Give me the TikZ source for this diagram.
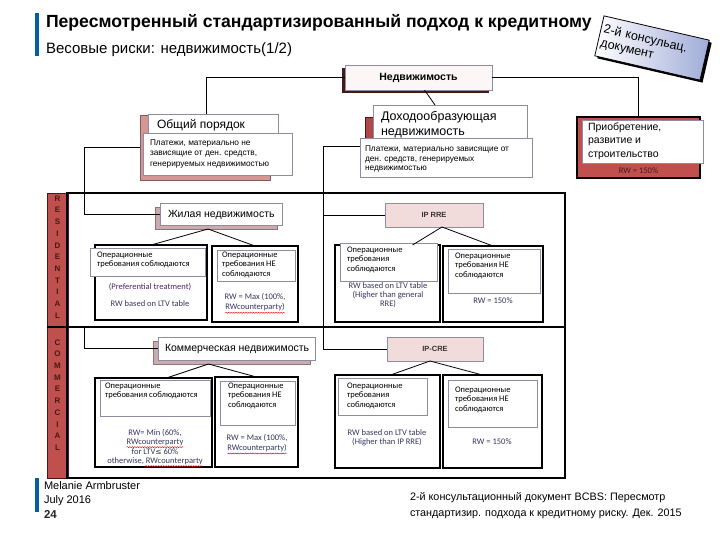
\documentclass[tikz,border=0pt]{standalone}
\usepackage{fontspec}
\setmainfont{Liberation Sans}
\newfontfamily\carl{Carlito}
\newfontfamily\dejav{DejaVu Sans}
\usetikzlibrary{calc,decorations.pathmorphing}
\definecolor{bluebar}{RGB}{0,94,162}
\definecolor{redbar}{RGB}{192,80,77}
\definecolor{darkred}{RGB}{70,25,25}
\definecolor{pinkb}{RGB}{214,150,148}
\definecolor{zhilback}{RGB}{200,172,176}
\definecolor{lightpink}{RGB}{242,220,219}
\definecolor{lblgray}{RGB}{140,140,165}
\definecolor{rwtext}{RGB}{55,55,95}
\definecolor{notebl}{RGB}{160,172,215}
\definecolor{nedvfill}{RGB}{252,246,246}
\newcommand\fs[2]{\fontsize{#1}{#2}\selectfont}
\newcommand\bx[6]{\node[#2,anchor=north west,minimum width={(#5)-(#3)},minimum height={(#6)-(#4)}] (#1) at (#3,#4) {};}
\tikzset{
  box/.style={inner sep=0pt,outer sep=0pt},
  blk/.style={box,draw=black,line width=1.5pt,fill=white},
  lbl/.style={box,draw=lblgray,line width=0.6pt,fill=white},
  pinkback/.style={box,draw=darkred!70,line width=0.6pt,fill=pinkb},
  conn/.style={draw=black,line width=0.8pt},
  txt/.style={inner sep=0pt,outer sep=0pt,anchor=north west,align=left},
  lbltxt/.style={txt,font=\carl\fs{8.5}{9.5}},
  rwtxt/.style={inner sep=0pt,outer sep=0pt,anchor=center,font=\carl\fs{8.5}{9.5},text=rwtext},
  vert/.style={inner sep=0pt,outer sep=0pt,align=center,font=\bfseries\fs{8}{11.7},text=darkred},
  squig/.style={draw=red,line width=0.45pt,decorate,decoration={snake,amplitude=0.5pt,segment length=2.5pt}},
}
\begin{document}
\begin{tikzpicture}[x=1pt,y=-1pt]
\useasboundingbox (0,0) rectangle (720,540);

% ---------- header ----------
\fill[bluebar] (35,13) rectangle (39,56);
\node[txt,anchor=base west,font=\bfseries\fs{17.6}{20}] (title) at (46,28) {Пересмотренный стандартизированный подход к кредитному};
\node[txt,anchor=base west,font=\fs{15}{17}] (subtitle) at (46,54) {Весовые риски: недвижимость(1/2)};

% ---------- big frame ----------
\bx{redbar}{box,fill=redbar,draw=darkred,line width=0.8pt}{47}{193}{68}{478}
\node[vert] (resid) at (57.5,257) {R\\E\\S\\I\\D\\E\\N\\T\\I\\A\\L};
\node[vert] (comm) at (57.5,395) {C\\O\\M\\M\\E\\R\\C\\I\\A\\L};
\draw[line width=1.8pt] (67,193) rectangle (565,478);
\draw[line width=1.8pt] (47,327) -- (565,327);

% ---------- top level boxes ----------
\bx{nedvS}{box,fill=darkred}{342}{68}{489}{93}
\node[box,draw=lblgray,line width=0.6pt,fill=nedvfill,anchor=north west,minimum width=147,minimum height=25,font=\bfseries\fs{10.5}{12}] (nedv) at (345,65) {Недвижимость};

\bx{obshB}{pinkback}{140}{115}{270}{180}
\bx{obshT}{lbl}{148}{114}{278}{133}
\bx{obshP}{lbl}{143}{133}{292}{175}
\node[txt,font=\fs{12}{14}] (obshTt) at (157,119.5) {Общий порядок};
\node[txt,font=\fs{8.3}{10.5}] (obshPt) at (150,139.5) {Платежи, материально не\\зависящие от ден. средств,\\генерируемых недвижимостью};

\bx{dohB}{box,fill=redbar!90!black,draw=darkred,line width=0.6pt}{365}{117}{500}{172}
\bx{dohT}{lbl}{373}{105}{527}{138}
\bx{dohP}{lbl}{360}{138}{532}{177}
\node[txt,font=\fs{12.5}{15}] (dohTt) at (381,111) {Доходообразующая\\недвижимость};
\node[txt,font=\fs{8.3}{9.3}] (dohPt) at (365,146) {Платежи, материально зависящие от\\ден. средств, генерируемых\\недвижимостью};

\bx{priob}{box,fill=redbar,draw=black,line width=1.2pt}{577}{117}{700}{178}
\bx{priobW}{lbl}{582}{120}{703}{163}
\node[txt,font=\fs{10.5}{13.5}] (priobt) at (588,122.5) {Приобретение,\\развитие и\\строительство};
\node[rwtxt,text=darkred] (priobrw) at (638.5,171) {RW = 150\%};

% ---------- connectors (top) ----------
\coordinate (jL) at (84,147.5);
\coordinate (jL2) at (84,327);
\coordinate (jR) at (323,146.5);
\draw[conn] (nedv.west) -| ([xshift=-7pt]obshT.north);
\draw[conn] (nedv.east) -| (priob.north);
\draw[conn] ([xshift=6pt]nedv.south) -- ([xshift=-15pt]dohT.north);
\draw[conn] (obshB.west) -- (jL);
\draw[conn] ([yshift=11pt]dohP.west) -- (jR);

% ---------- residential ----------
\bx{zhilB}{box,fill=zhilback,draw=darkred!60,line width=0.6pt}{155}{207}{277}{229}
\bx{zhilF}{lbl}{160}{203}{282}{225}
\node[txt,anchor=west,font=\fs{10.5}{12}] (zhilt) at (168,214.5) {Жилая недвижимость};
\draw[conn] (jL) |- (zhilF.west);

\node[box,draw=lblgray,line width=0.6pt,fill=lightpink,anchor=north west,minimum width=98,minimum height=24,font=\bfseries\fs{7.5}{9},text=black!80] (iprre) at (385,203) {IP RRE};
\draw[conn] (jR) |- (iprre.west);

\bx{L1}{blk}{95}{245}{207}{320}
\bx{L1l}{lbl}{90}{248}{205}{276}
\node[lbltxt] (L1t) at (97,251.5) {Операционные\\требования соблюдаются};
\node[rwtxt,text=rwtext!70!violet] (L1a) at (150,287) {(Preferential treatment)};
\node[rwtxt] (L1b) at (150,304) {RW based on LTV table};

\bx{R1}{blk}{212}{246}{298}{322}
\bx{R1l}{lbl}{217}{250}{295}{281}
\node[lbltxt] (R1t) at (222,251.5) {Операционные\\требования НЕ\\соблюдаются};
\node[rwtxt] (R1a) at (255,297) {RW = Max (100\%,};
\node[rwtxt] (R1b) at (255,307.5) {RWcounterparty)};
\draw[squig] ([yshift=-1.5pt]R1b.south west) -- ([yshift=-1.5pt]R1b.south east);

\bx{L2}{blk}{335}{245}{440}{322}
\bx{L2l}{lbl}{340}{243}{437}{281}
\node[lbltxt] (L2t) at (347,246.5) {Операционные\\требования\\соблюдаются};
\node[rwtxt] (L2a) at (388,286) {RW based on LTV table};
\node[rwtxt] (L2b) at (388,295) {(Higher than general};
\node[rwtxt] (L2c) at (388,304) {RRE)};

\bx{R2}{blk}{443}{246}{543}{322}
\bx{R2l}{lbl}{448}{249}{540}{293}
\node[lbltxt] (R2t) at (455,252.5) {Операционные\\требования НЕ\\соблюдаются};
\node[rwtxt] (R2a) at (493,301) {RW = 150\%};

\draw[conn] ([xshift=-8pt]zhilB.south) -- (L1.north);
\draw[conn] ([xshift=-8pt]zhilB.south) -- (R1.north);
\draw[conn] ([xshift=8pt]iprre.south) -- ([xshift=25pt]L2.north);
\draw[conn] ([xshift=8pt]iprre.south) -- (R2.north);

% ---------- commercial ----------
\bx{kommB}{box,fill=zhilback,draw=darkred!60,line width=0.6pt}{153}{341}{310}{364}
\bx{kommF}{lbl}{158}{337}{315}{360}
\node[txt,anchor=west,font=\fs{10.5}{12}] (kommt) at (165,348.5) {Коммерческая недвижимость};
\draw[conn] (jL2) |- (kommF.west);

\node[box,draw=lblgray,line width=0.6pt,fill=lightpink,anchor=north west,minimum width=96,minimum height=24,font=\bfseries\fs{7.5}{9},text=black!80] (ipcre) at (387,337) {IP-CRE};
\draw[conn] (jR) |- (ipcre.west);

\bx{L3}{blk}{95}{378}{212}{467}
\bx{L3l}{lbl}{100}{380}{210}{416}
\node[lbltxt] (L3t) at (105,382.5) {Операционные\\требования соблюдаются};
\node[rwtxt] (L3a) at (155,433) {RW= Min (60\%,};
\node[rwtxt] (L3b) at (155,442.5) {RWcounterparty};
\node[rwtxt] (L3c) at (155,452) {for LTV{\dejav\fs{7.5}{9}≤} 60\%};
\node[rwtxt] (L3d) at (155,461.5) {otherwise, RWcounterparty};
\draw[squig] ([yshift=-1.2pt]L3b.south west) -- ([yshift=-1.2pt]L3b.south east);
\draw[squig] ([yshift=-1pt,xshift=38pt]L3d.south west) -- ([yshift=-1pt]L3d.south east);

\bx{R3}{blk}{215}{377}{298}{467}
\bx{R3l}{lbl}{220}{381}{295}{425}
\node[lbltxt] (R3t) at (228,382.5) {Операционные\\требования НЕ\\соблюдаются};
\node[rwtxt] (R3a) at (257,438) {RW = Max (100\%,};
\node[rwtxt] (R3b) at (257,448.5) {RWcounterparty)};
\draw[squig] ([yshift=-1.2pt]R3b.south west) -- ([yshift=-1.2pt]R3b.south east);

\bx{L4}{blk}{335}{375}{440}{468}
\bx{L4l}{lbl}{338}{378}{427}{415}
\node[lbltxt] (L4t) at (347,382.5) {Операционные\\требования\\соблюдаются};
\node[rwtxt] (L4a) at (387,433) {RW based on LTV table};
\node[rwtxt] (L4b) at (387,442) {(Higher than IP RRE)};

\bx{R4}{blk}{443}{375}{542}{468}
\bx{R4l}{lbl}{448}{380}{537}{427}
\node[lbltxt] (R4t) at (455,386.5) {Операционные\\требования НЕ\\соблюдаются};
\node[rwtxt] (R4a) at (492,442) {RW = 150\%};

\draw[conn] ([xshift=-23pt]kommB.south) -- ([xshift=13pt]L3.north);
\draw[conn] ([xshift=-23pt]kommB.south) -- (R3.north);
\draw[conn] ([xshift=-5pt]ipcre.south) -- ([xshift=3pt]L4.north);
\draw[conn] ([xshift=-5pt]ipcre.south) -- ([xshift=-10pt]R4.north);

% ---------- note ----------
\node[rotate=-13,fill=black,inner sep=0pt,minimum width=108pt,minimum height=41pt] (noteS) at (654.5,50.5) {};
\node[rotate=-13,draw=black,line width=0.8pt,left color=white,right color=notebl,inner sep=2pt,minimum width=108pt,minimum height=41pt,text width=102pt,align=left,font=\fs{12.5}{14}] (note) at (652,48) {2-й консульац.\\документ};

% ---------- footer ----------
\fill[bluebar] (35,478) rectangle (39,512);
\node[txt,anchor=base west,font=\fs{11}{14}] (auth) at (44,489) {Melanie Armbruster};
\node[txt,anchor=base west,font=\fs{11}{14}] (date) at (44,503) {July 2016};
\node[txt,anchor=base west,font=\bfseries\fs{11.5}{14},text=black!85] (page) at (44,518) {24};
\node[txt,anchor=base west,font=\fs{10.8}{15.5}] (src) at (410,516) {2-й консультационный документ BCBS: Пересмотр\\стандартизир. подхода к кредитному риску. Дек. 2015};
\end{tikzpicture}
\end{document}
